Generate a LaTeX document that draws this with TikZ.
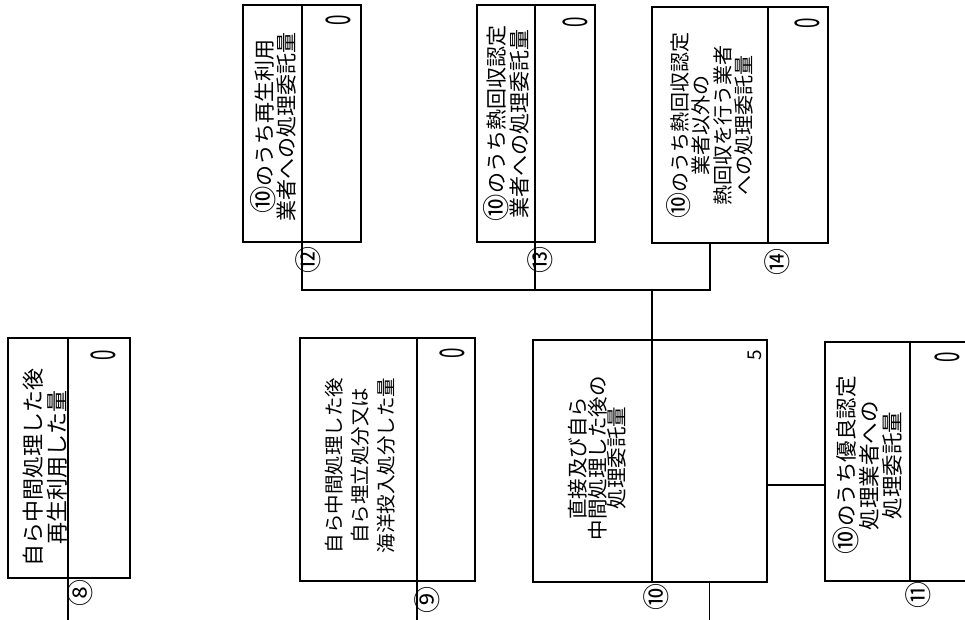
\documentclass[tikz,border=0pt]{standalone}
\usepackage{fontspec}
\setmainfont{Noto Sans CJK JP}
\usepackage{graphicx}
\newcommand\cten{\raisebox{-0.08em}{\scalebox{1.3}{⑩}}}
\begin{document}
\begin{tikzpicture}[x=1pt,y=-1pt]
\tikzset{
  cell/.style={draw, line width=1.4pt, inner sep=0pt, outer sep=0pt},
  lbl/.style={rotate=90, align=center, inner sep=0pt},
  num/.style={rotate=90, inner sep=0pt, font=\fontsize{27}{27}\selectfont},
  val/.style={rotate=90, inner sep=0pt, text height=0.5em, text depth=0pt, font=\fontsize{34}{34}\selectfont},
  wire/.style={line width=1.4pt}
}
\useasboundingbox (0,0) rectangle (965,619);
% boxes: label part (a) and value part (b)
\node[cell, minimum width=60pt, minimum height=240pt] (b8a) at (38,458) {};
\node[cell, minimum width=62pt, minimum height=240pt] (b8b) at (99,458) {};
\node[cell, minimum width=117pt, minimum height=243pt] (b9a) at (358.5,459.5) {};
\node[cell, minimum width=58pt, minimum height=243pt] (b9b) at (446,459.5) {};
\node[cell, minimum width=119pt, minimum height=242pt] (b10a) at (592.5,461) {};
\node[cell, minimum width=115pt, minimum height=242pt] (b10b) at (709.5,461) {};
\node[cell, minimum width=85pt, minimum height=239pt] (b11a) at (867.5,461.5) {};
\node[cell, minimum width=60pt, minimum height=239pt] (b11b) at (940,461.5) {};
\node[cell, minimum width=59pt, minimum height=237pt] (b12a) at (272.5,123.5) {};
\node[cell, minimum width=59pt, minimum height=237pt] (b12b) at (331.5,123.5) {};
\node[cell, minimum width=58pt, minimum height=237pt] (b13a) at (506,123.5) {};
\node[cell, minimum width=60pt, minimum height=237pt] (b13b) at (565,123.5) {};
\node[cell, minimum width=116pt, minimum height=236pt] (b14a) at (710,125) {};
\node[cell, minimum width=60pt, minimum height=236pt] (b14b) at (798,125) {};
% labels
\node[lbl, font=\fontsize{22}{24}\selectfont] at ([shift={(7,9)}]b8a.center) {自ら中間処理した後\\再生利用した量};
\node[lbl, font=\fontsize{19.5}{26}\selectfont] at ([shift={(2,6)}]b9a.center) {自ら中間処理した後\\自ら埋立処分又は\\海洋投入処分した量};
\node[lbl, font=\fontsize{20.5}{19.5}\selectfont] at ([shift={(5,-3)}]b10a.center) {直接及び自ら\\中間処理した後の\\処理委託量};
\node[lbl, font=\fontsize{21.5}{23}\selectfont] at ([shift={(0,4)}]b11a.center) {\cten のうち優良認定\\処理業者への\\処理委託量};
\node[lbl, font=\fontsize{21}{21}\selectfont] at ([shift={(1,3)}]b12a.center) {\cten のうち再生利用\\業者への処理委託量};
\node[lbl, font=\fontsize{21}{21}\selectfont] at (b13a.center) {\cten のうち熱回収認定\\業者への処理委託量};
\node[lbl, font=\fontsize{20}{21.5}\selectfont] at (b14a.center) {\cten のうち熱回収認定\\業者以外の\\熱回収を行う業者\\への処理委託量};
% values
\node[val] at ([shift={(-17,17)}]b8b.north east) {\scalebox{0.55}[1]{0}};
\node[val] at ([shift={(-13,15)}]b9b.north east) {\scalebox{0.55}[1]{0}};
\node[val, font=\fontsize{19}{19}\selectfont] at ([shift={(-8,15)}]b10b.north east) {5};
\node[val] at ([shift={(47,15)}]b11b.north west) {\scalebox{0.55}[1]{0}};
\node[val] at ([shift={(-13,15)}]b12b.north east) {\scalebox{0.55}[1]{0}};
\node[val] at ([shift={(-10,17)}]b13b.north east) {\scalebox{0.55}[1]{0}};
\node[val] at ([shift={(-11,16)}]b14b.north east) {\scalebox{0.55}[1]{0}};
% circled numbers
\node[num] at ([shift={(12,15)}]b8a.south east) {⑧};
\node[num] at ([shift={(10,19)}]b9a.south east) {⑨};
\node[num] at ([shift={(4,15)}]b10a.south east) {⑩};
\node[num] at ([shift={(8,14)}]b11a.south east) {⑪};
\node[num] at ([shift={(6,18)}]b12a.south east) {⑫};
\node[num] at ([shift={(5,18)}]b13a.south east) {⑬};
\node[num] at ([shift={(9,19)}]b14a.south east) {⑭};
% connectors
\coordinate (pgbot) at (0,623);
\coordinate (bus) at (0,290);
\coordinate (link) at (0,485);
\draw[wire] (b8a.south east) -- (b8a.south east |- pgbot);
\draw[wire] (b9a.south east) -- (b9a.south east |- pgbot);
\draw[wire] (b10b.south) -- (b10b.south |- pgbot);
\draw[wire] (b10b.east |- link) -- (b11a.west |- link);
\draw[wire] (b10a.north east) -- (b10a.north east |- bus);
\draw[wire] (b12a.south east) |- (b14a.south |- bus) -- (b14a.south);
\draw[wire] (b13a.south east) -- (b13a.south east |- bus);
\end{tikzpicture}
\end{document}
